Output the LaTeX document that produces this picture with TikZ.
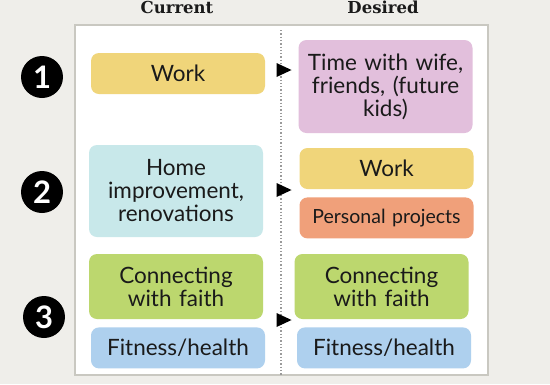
\documentclass[tikz,border=0pt]{standalone}
\usepackage{fontspec}
\setmainfont{Lato}
\newfontfamily\headfont{DejaVu Serif}
\usepackage{tikz}
\usetikzlibrary{positioning,shapes.geometric}
\usepackage{xcolor}
\definecolor{ink}{HTML}{1A1A1A}
\definecolor{canvas}{HTML}{EFEEEA}
\definecolor{frame}{HTML}{C9C8C1}
\definecolor{divider}{HTML}{9A9A9A}
\definecolor{yellow}{HTML}{F0D57A}
\definecolor{pink}{HTML}{E2BFDC}
\definecolor{cyan}{HTML}{C8E8EA}
\definecolor{orange}{HTML}{F0A07A}
\definecolor{green}{HTML}{BCD76E}
\definecolor{sky}{HTML}{AED0EE}
\tikzset{
  base/.style={font=\fontsize{22.5}{23}\selectfont,align=center,rounded corners=8pt,text=ink,inner sep=0pt,text width=172pt,minimum width=174pt,minimum height=41pt},
  work/.style={base,fill=yellow},
  family/.style={base,fill=pink},
  home/.style={base,fill=cyan},
  project/.style={base,fill=orange,font=\fontsize{19.5}{22}\selectfont},
  faith/.style={base,fill=green},
  health/.style={base,fill=sky},
  num/.style={circle,fill=black,text=white,minimum size=42pt,inner sep=0pt,font=\fontsize{31}{31}\selectfont\bfseries},
  head/.style={font=\headfont\bfseries\fontsize{16.5}{16.5}\selectfont,text=ink,anchor=base,inner sep=0pt},
  pointer/.style={isosceles triangle,isosceles triangle stretches,fill=black,minimum width=14pt,minimum height=15pt,inner sep=0pt},
  panel/.style={fill=white,draw=frame,line width=1.5pt},
  every node/.style={font=\fontsize{20}{23}\selectfont}
}

\begin{document}
\begin{tikzpicture}[x=1pt,y=-1pt]
\useasboundingbox[fill=canvas] (0,0) rectangle (550,384);
\draw[panel] (75,25) rectangle (488,375);
\draw[divider,dotted,line width=1.3pt] (281,30) -- (281,375);

\node[head] (current) at (177,13) {Current};
\node[head] (desired) at (383,13) {Desired};

% current column
\node[work] (cwork) at (178,73.5) {Work};
\node[home,minimum height=92pt] (chome) at (176,191) {Home\\improvement,\\renovations};
\node[faith,minimum height=65pt] (cfaith) at (176,286.5) {Connecting\\with faith};
\node[health,below=8pt of cfaith.south,anchor=north,xshift=2pt] (cfit) {Fitness/health};

% desired column
\node[family,minimum height=93pt] (dtime) at (385.5,86.5) {Time with wife,\\friends, (future\\kids)};
\node[work] (dwork) at (386.5,168.5) {Work};
\node[project,below=8pt of dwork] (dproj) {Personal projects};
\node[faith,minimum height=65pt] (dfaith) at (381.5,286.5) {Connecting\\with faith};
\node[health,below=8pt of dfaith.south,anchor=north,xshift=2.5pt] (dfit) {Fitness/health};

% row numbers
\node[num] (one) at (42,77) {1};
\node[num] (two) at (42,192) {2};
\node[num] (three) at (44,317) {3};

% change markers
\node[pointer] (shift1) at (281,70) {};
\node[pointer] (shift2) at (281,190) {};
\node[pointer] (shift3) at (281,320) {};
\end{tikzpicture}
\end{document}
